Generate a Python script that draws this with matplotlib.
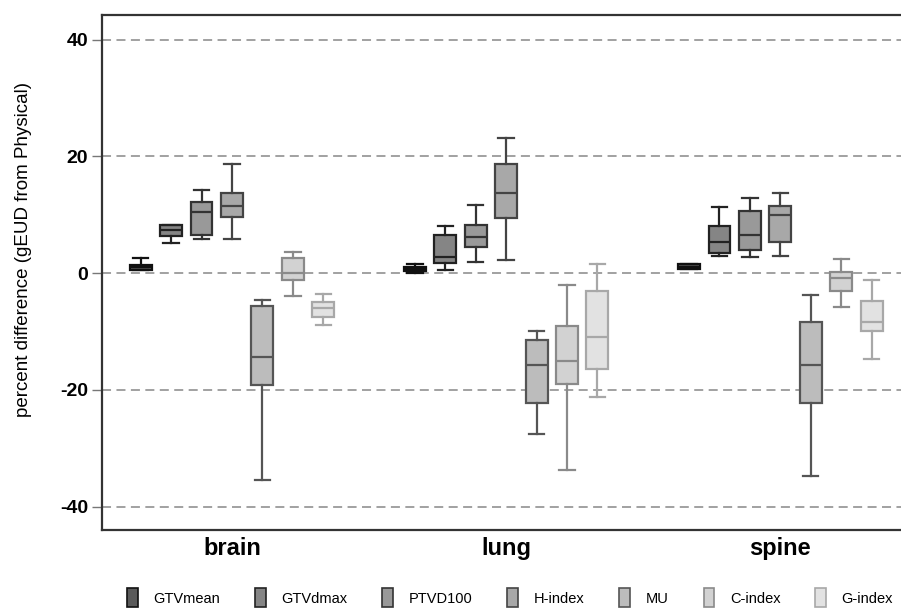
import matplotlib
matplotlib.use("Agg")
import matplotlib.pyplot as plt
from matplotlib.patches import Patch

plt.rcParams['font.family'] = ['Liberation Sans', 'DejaVu Sans']

categories = ["brain", "lung", "spine"]
series = ["GTVmean", "GTVdmax", "PTVD100", "H-index", "MU", "C-index", "G-index"]

# per series: values for brain, lung, spine
whislo = {
    "GTVmean": [0.6, 0.05, 0.7],
    "GTVdmax": [5.2, 0.5, 2.9],
    "PTVD100": [5.9, 1.9, 2.8],
    "H-index": [5.9, 2.2, 2.9],
    "MU":      [-35.4, -27.5, -34.7],
    "C-index": [-3.9, -33.7, -5.8],
    "G-index": [-8.9, -21.3, -14.7],
}
q1 = {
    "GTVmean": [0.6, 0.4, 0.7],
    "GTVdmax": [6.3, 1.8, 3.5],
    "PTVD100": [6.6, 4.4, 3.9],
    "H-index": [9.6, 9.5, 5.4],
    "MU":      [-19.1, -22.2, -22.3],
    "C-index": [-1.2, -19.0, -3.0],
    "G-index": [-7.6, -16.4, -9.9],
}
med = {
    "GTVmean": [1.0, 0.7, 1.1],
    "GTVdmax": [7.3, 2.8, 5.3],
    "PTVD100": [10.5, 6.2, 6.6],
    "H-index": [11.5, 13.8, 9.9],
    "MU":      [-14.4, -15.7, -15.8],
    "C-index": [0.0, -15.0, -0.8],
    "G-index": [-5.9, -10.9, -8.3],
}
q3 = {
    "GTVmean": [1.4, 1.1, 1.5],
    "GTVdmax": [8.3, 6.5, 8.0],
    "PTVD100": [12.1, 8.3, 10.6],
    "H-index": [13.7, 18.7, 11.5],
    "MU":      [-5.6, -11.5, -8.4],
    "C-index": [2.6, -9.0, 0.2],
    "G-index": [-5.0, -3.1, -4.8],
}
whishi = {
    "GTVmean": [2.6, 1.6, 1.5],
    "GTVdmax": [8.3, 8.0, 11.3],
    "PTVD100": [14.2, 11.7, 12.9],
    "H-index": [18.6, 23.2, 13.7],
    "MU":      [-4.6, -9.9, -3.8],
    "C-index": [3.6, -2.1, 2.5],
    "G-index": [-3.6, 1.5, -1.2],
}
yticks = [40, 20, 0, -20, -40]

fills = ["#5a5a5a", "#858585", "#999999", "#a8a8a8", "#bcbcbc", "#d2d2d2", "#e2e2e2"]
edges = ["#111111", "#222222", "#333333", "#444444", "#555555", "#8a8a8a", "#a8a8a8"]

fig = plt.figure(figsize=(9.01, 6.10), dpi=100)
ax = fig.add_axes([0.1132, 0.1311, 0.8868, 0.8443])

step = 0.111
width = 0.08
for si, s in enumerate(series):
    stats = []
    for ci in range(len(categories)):
        stats.append(dict(med=med[s][ci], q1=q1[s][ci], q3=q3[s][ci],
                          whislo=whislo[s][ci], whishi=whishi[s][ci], fliers=[]))
    pos = [ci + (si - 3) * step for ci in range(len(categories))]
    ec = edges[si]
    ax.bxp(stats, positions=pos, widths=width, patch_artist=True, showfliers=False,
           capwidths=width * 0.7,
           boxprops=dict(facecolor=fills[si], edgecolor=ec, linewidth=1.6),
           medianprops=dict(color=ec, linewidth=1.6),
           whiskerprops=dict(color=ec, linewidth=1.6),
           capprops=dict(color=ec, linewidth=1.6), zorder=3)

for y in yticks:
    ax.axhline(y, color="#9a9a9a", linestyle=(0, (5, 3)), linewidth=1.3, zorder=1)

ax.set_xlim(-0.474, 2.44)
ax.set_ylim(-44, 44.2)
ax.set_yticks(yticks)
ax.set_yticklabels([str(v) for v in yticks], fontsize=14, fontweight='bold')
ax.set_xticks(range(len(categories)))
ax.set_xticklabels(categories, fontsize=17, fontweight='bold')
ax.tick_params(axis='x', length=0, pad=5)
ax.tick_params(axis='y', length=7, width=1, color="#777777", pad=3)
ax.set_ylabel("percent difference (gEUD from Physical)", fontsize=13.5)
ax.yaxis.set_label_coords(-0.088, 0.545)

for sp in ["left", "bottom", "top"]:
    ax.spines[sp].set_color("#333333")
    ax.spines[sp].set_linewidth(1.6)
ax.spines["right"].set_visible(False)

handles = [Patch(facecolor=fills[i], edgecolor=edges[i], linewidth=1.2, label=series[i])
           for i in range(len(series))]
fig.legend(handles=handles, loc="center left", bbox_to_anchor=(0.141, 0.02), ncol=7,
           frameon=False, fontsize=10.5, handlelength=0.75, handleheight=1.6,
           columnspacing=2.4, handletextpad=1.05, borderpad=0, borderaxespad=0)

fig.savefig("out.png", dpi=100, facecolor="white")
